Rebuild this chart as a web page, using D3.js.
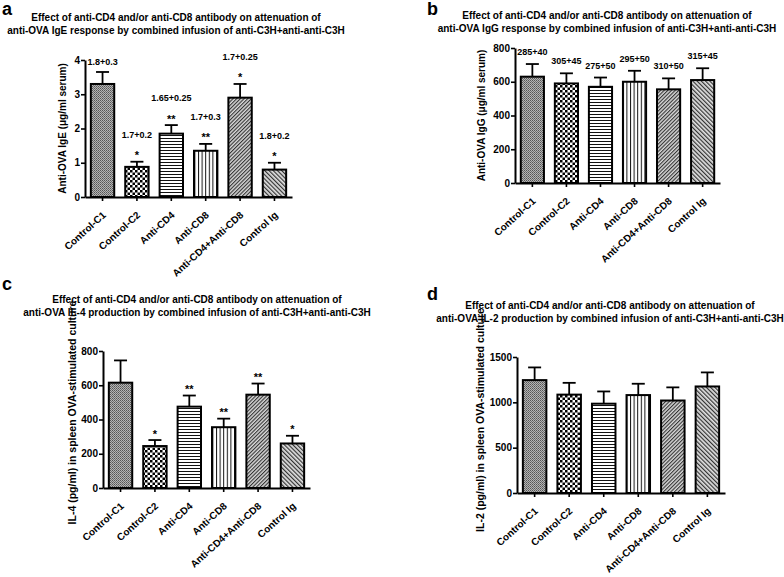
<!DOCTYPE html>
<html>
<head>
<meta charset="utf-8">
<script src="https://cdn.jsdelivr.net/npm/d3@7"></script>
<style>
  html, body { margin: 0; padding: 0; background: #fff; }
  svg text { font-family: "Liberation Sans", Arial, sans-serif; font-weight: bold; fill: #000; }
</style>
</head>
<body>
<svg id="chart" width="784" height="577"></svg>
<script>
// ---------------- data ----------------
const categories = ["Control-C1", "Control-C2", "Anti-CD4", "Anti-CD8", "Anti-CD4+Anti-CD8", "Control Ig"];

// panel a: anti-OVA IgE (µg/ml serum)
const igeMean = [3.3, 0.88, 1.85, 1.35, 2.9, 0.8];
const igeErr = [0.35, 0.15, 0.25, 0.2, 0.4, 0.2];
const igeLabels = ["1.8+0.3", "1.7+0.2", "1.65+0.25", "1.7+0.3", "1.7+0.25", "1.8+0.2"];
const igeStars = ["", "*", "**", "**", "*", "*"];
const igeTicks = [0, 1, 2, 3, 4];

// panel b: anti-OVA IgG (µg/ml serum)
const iggMean = [630, 590, 570, 600, 555, 610];
const iggErr = [75, 60, 55, 65, 65, 70];
const iggLabels = ["285+40", "305+45", "275+50", "295+50", "310+50", "315+45"];
const iggTicks = [0, 200, 400, 600, 800];

// panel c: IL-4 (pg/ml)
const il4Mean = [615, 245, 475, 355, 545, 260];
const il4Err = [130, 35, 65, 50, 65, 45];
const il4Stars = ["", "*", "**", "**", "**", "*"];
const il4Ticks = [0, 200, 400, 600, 800];

// panel d: IL-2 (pg/ml)
const il2Mean = [1245, 1085, 985, 1080, 1020, 1175];
const il2Err = [140, 130, 135, 125, 145, 155];
const il2Ticks = [0, 500, 1000, 1500];

const titleLine1 = "Effect of anti-CD4 and/or anti-CD8 antibody on attenuation of";
const titlesLine2 = [
  "anti-OVA IgE response by combined infusion of anti-C3H+anti-anti-C3H",
  "anti-OVA IgG response by combined infusion of anti-C3H+anti-anti-C3H",
  "anti-OVA IL-4 production by combined infusion of anti-C3H+anti-anti-C3H",
  "anti-OVA IL-2 production by combined infusion of anti-C3H+anti-anti-C3H"
];
const yTitles = [
  "Anti-OVA IgE (\u03bcg/ml serum)",
  "Anti-OVA IgG (\u03bcg/ml serum)",
  "IL-4 (pg/ml) in spleen OVA-stimulated culture",
  "IL-2 (pg/ml) in spleen OVA-stimulated culture"
];
const panelLetters = ["a", "b", "c", "d"];

// ---------------- drawing ----------------
const svg = d3.select("#chart");
const defs = svg.append("defs");

function pattern(id, w, h, transform, draw) {
  const p = defs.append("pattern").attr("id", id)
    .attr("patternUnits", "userSpaceOnUse").attr("width", w).attr("height", h);
  if (transform) p.attr("patternTransform", transform);
  draw(p);
}
// fine grey stipple
pattern("pat0", 2, 2, null, p => {
  p.append("rect").attr("width", 2).attr("height", 2).attr("fill", "#b4b4b4");
  p.append("rect").attr("width", 1).attr("height", 1).attr("fill", "#555");
  p.append("rect").attr("x", 1).attr("y", 1).attr("width", 1).attr("height", 1).attr("fill", "#707070");
});
// checkerboard
pattern("pat1", 5, 5, null, p => {
  p.append("rect").attr("width", 5).attr("height", 5).attr("fill", "#fff");
  p.append("rect").attr("width", 2.5).attr("height", 2.5).attr("fill", "#000");
  p.append("rect").attr("x", 2.5).attr("y", 2.5).attr("width", 2.5).attr("height", 2.5).attr("fill", "#000");
});
// horizontal lines
pattern("pat2", 3, 3, null, p => {
  p.append("rect").attr("width", 3).attr("height", 3).attr("fill", "#fff");
  p.append("rect").attr("width", 3).attr("height", 1).attr("fill", "#111");
});
// vertical lines
pattern("pat3", 3.6, 3, null, p => {
  p.append("rect").attr("width", 3.6).attr("height", 3).attr("fill", "#fff");
  p.append("rect").attr("width", 1).attr("height", 3).attr("fill", "#111");
});
// "/" diagonal
pattern("pat4", 2.6, 4, "rotate(45)", p => {
  p.append("rect").attr("width", 2.6).attr("height", 4).attr("fill", "#d8d8d8");
  p.append("rect").attr("width", 1.1).attr("height", 4).attr("fill", "#333");
});
// "\" diagonal
pattern("pat5", 3, 4, "rotate(-45)", p => {
  p.append("rect").attr("width", 3).attr("height", 4).attr("fill", "#e0e0e0");
  p.append("rect").attr("width", 1.2).attr("height", 4).attr("fill", "#333");
});

const layouts = [
  { x0: 85, x1: 292, y0: 197, y1: 60, titleX: 176, titleY: 21, letterX: 2, letterY: 15, yTitleX: 66, yTitleShift: 0, yTitleSize: 10 },
  { x0: 515, x1: 720, y0: 183, y1: 48, titleX: 607, titleY: 19, letterX: 427, letterY: 15, yTitleX: 485, yTitleShift: 0, yTitleSize: 10 },
  { x0: 103, x1: 310, y0: 488, y1: 351, titleX: 197, titleY: 303, letterX: 2, letterY: 290, yTitleX: 76, yTitleShift: -7, yTitleSize: 10.5 },
  { x0: 517, x1: 725, y0: 493, y1: 357, titleX: 610, titleY: 309, letterX: 427, letterY: 300, yTitleX: 484, yTitleShift: -5, yTitleSize: 10.5 }
];

const panels = [
  { mean: igeMean, err: igeErr, ticks: igeTicks, labels: igeLabels, stars: igeStars },
  { mean: iggMean, err: iggErr, ticks: iggTicks, labels: iggLabels, stars: null },
  { mean: il4Mean, err: il4Err, ticks: il4Ticks, labels: null, stars: il4Stars },
  { mean: il2Mean, err: il2Err, ticks: il2Ticks, labels: null, stars: null }
];

panels.forEach((pd, k) => {
  const L = layouts[k];
  const g = svg.append("g");
  const x = d3.scaleBand().domain(categories).range([L.x0, L.x1])
    .paddingInner(0.32).paddingOuter(0.17);
  const y = d3.scaleLinear().domain([0, d3.max(pd.ticks)]).range([L.y0, L.y1]);
  const cx = c => x(c) + x.bandwidth() / 2;

  // panel letter
  g.append("text").attr("x", L.letterX).attr("y", L.letterY)
    .style("font-size", "18px").text(panelLetters[k]);
  // title
  g.append("text").attr("x", L.titleX).attr("y", L.titleY).attr("text-anchor", "middle")
    .style("font-size", "10px").text(titleLine1);
  g.append("text").attr("x", L.titleX).attr("y", L.titleY + 13).attr("text-anchor", "middle")
    .style("font-size", "10px").text(titlesLine2[k]);

  // error bars (upward only)
  const eb = g.append("g").attr("stroke", "#000").attr("stroke-width", 1.8);
  categories.forEach((c, i) => {
    const top = y(pd.mean[i] + pd.err[i]);
    eb.append("line").attr("x1", cx(c)).attr("x2", cx(c))
      .attr("y1", y(pd.mean[i])).attr("y2", top);
    eb.append("line").attr("x1", cx(c) - 6.5).attr("x2", cx(c) + 6.5)
      .attr("y1", top).attr("y2", top);
  });

  // bars
  g.selectAll("rect.bar").data(categories).join("rect").attr("class", "bar")
    .attr("x", c => x(c)).attr("width", x.bandwidth())
    .attr("y", (c, i) => y(pd.mean[i]))
    .attr("height", (c, i) => y(0) - y(pd.mean[i]))
    .attr("fill", (c, i) => `url(#pat${i})`)
    .attr("stroke", "#000").attr("stroke-width", 2);

  // y axis
  const ya = g.append("g").attr("transform", `translate(${L.x0},0)`)
    .call(d3.axisLeft(y).tickValues(pd.ticks).tickSize(4).tickSizeOuter(0).tickPadding(1)
      .tickFormat(d3.format("d")));
  ya.select(".domain").attr("stroke-width", 2);
  ya.selectAll(".tick line").attr("stroke-width", 1.6);
  ya.selectAll(".tick text").style("font-size", "10px")
    .style("font-family", "'Liberation Sans', Arial, sans-serif").style("font-weight", "bold");

  // x axis
  const xa = g.append("g").attr("transform", `translate(0,${L.y0})`)
    .call(d3.axisBottom(x).tickSize(4).tickSizeOuter(0));
  xa.select(".domain").attr("stroke-width", 2);
  xa.selectAll(".tick line").attr("stroke-width", 1.6);
  xa.selectAll(".tick text")
    .attr("x", 0).attr("y", 0).attr("dy", null)
    .attr("transform", "translate(4,19) rotate(-42)")
    .attr("text-anchor", "end")
    .style("font-size", "10px")
    .style("font-family", "'Liberation Sans', Arial, sans-serif").style("font-weight", "bold");

  // y title
  g.append("text")
    .attr("transform", `translate(${L.yTitleX},${(L.y0 + L.y1) / 2 + L.yTitleShift}) rotate(-90)`)
    .attr("text-anchor", "middle").style("font-size", L.yTitleSize + "px").text(yTitles[k]);

  // significance stars
  if (pd.stars) {
    categories.forEach((c, i) => {
      if (!pd.stars[i]) return;
      g.append("text").attr("x", cx(c)).attr("y", y(pd.mean[i] + pd.err[i]) - 2.5)
        .attr("text-anchor", "middle").style("font-size", "11px").text(pd.stars[i]);
    });
  }
  // value labels
  if (pd.labels) {
    categories.forEach((c, i) => {
      const top = y(pd.mean[i] + pd.err[i]);
      let off;
      if (k === 1) off = 9;
      else off = pd.stars && pd.stars[i] ? 24 : 7;
      g.append("text").attr("x", cx(c)).attr("y", top - off)
        .attr("text-anchor", "middle").style("font-size", "9px").text(pd.labels[i]);
    });
  }
});
</script>
</body>
</html>
